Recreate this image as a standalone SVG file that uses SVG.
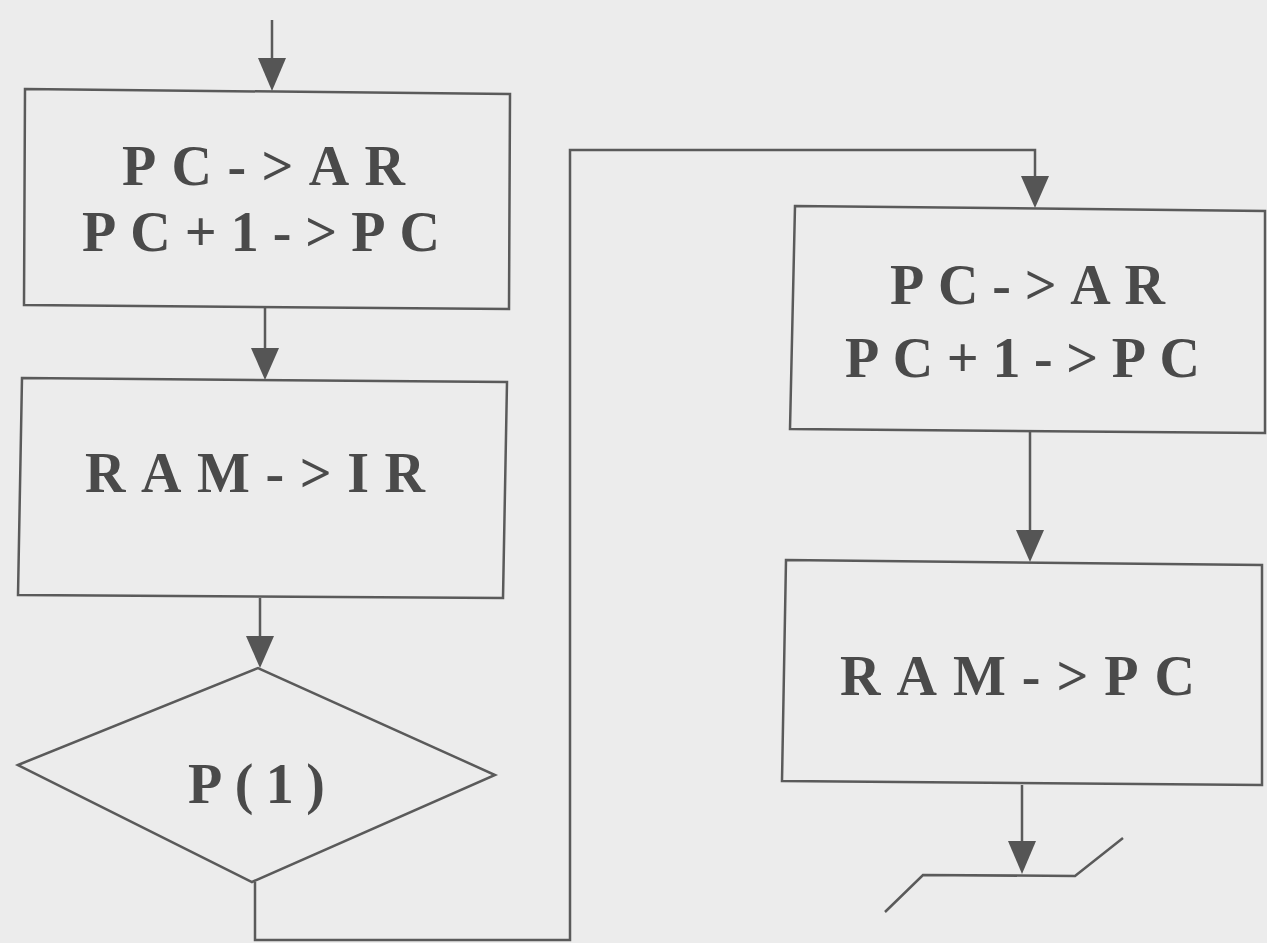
<svg xmlns="http://www.w3.org/2000/svg" width="1267" height="943" viewBox="0 0 1267 943">
<style>
.box{fill:none;stroke:#5a5a5a;stroke-width:2.5}
.ln{fill:none;stroke:#5a5a5a;stroke-width:2.5}
.ah{fill:#555}
.t{font-family:"Liberation Serif","Times New Roman",serif;font-weight:bold;font-size:56px;fill:#4a4a4a}
</style>
<rect width="1267" height="943" fill="#ececec"/>
<g id="connectors">
<path class="ln" d="M272,20 V62"/>
<path class="ah" d="M258,58 L286,58 L272,91 Z"/>
<path class="ln" d="M265,308 V352"/>
<path class="ah" d="M251,348 L279,348 L265,380 Z"/>
<path class="ln" d="M260,598 V640"/>
<path class="ah" d="M246,636 L274,636 L260,668 Z"/>
<path class="ln" d="M255,882 V940 H570 V150 H1035 V180"/>
<path class="ah" d="M1021,176 L1049,176 L1035,208 Z"/>
<path class="ln" d="M1030,432 V534"/>
<path class="ah" d="M1016,530 L1044,530 L1030,562 Z"/>
<path class="ln" d="M1022,785 V845"/>
<path class="ah" d="M1008,841 L1036,841 L1022,874 Z"/>
</g>
<g id="n1">
<polygon class="box" points="25,89 510,94 509,309 24,305"/>
<text class="t" x="122" y="185" textLength="283" lengthAdjust="spacing">PC-&gt;AR</text>
<text class="t" x="82" y="251" textLength="358" lengthAdjust="spacing">PC+1-&gt;PC</text>
</g>
<g id="n2">
<polygon class="box" points="22,378 507,382 503,598 18,595"/>
<text class="t" x="85" y="492" textLength="340" lengthAdjust="spacing">RAM-&gt;IR</text>
</g>
<g id="n3">
<polygon class="box" points="18,765 258,668 495,775 252,882"/>
<text class="t" x="188" y="803" textLength="137" lengthAdjust="spacing">P(1)</text>
</g>
<g id="n4">
<polygon class="box" points="795,206 1265,211 1265,433 790,429"/>
<text class="t" x="890" y="304" textLength="275" lengthAdjust="spacing">PC-&gt;AR</text>
<text class="t" x="845" y="377" textLength="355" lengthAdjust="spacing">PC+1-&gt;PC</text>
</g>
<g id="n5">
<polygon class="box" points="786,560 1262,565 1262,785 782,781"/>
<text class="t" x="840" y="695" textLength="355" lengthAdjust="spacing">RAM-&gt;PC</text>
</g>
<g id="n6">
<path class="ln" d="M885,912 L923,875 L1075,876 L1123,838"/>
</g>
</svg>
